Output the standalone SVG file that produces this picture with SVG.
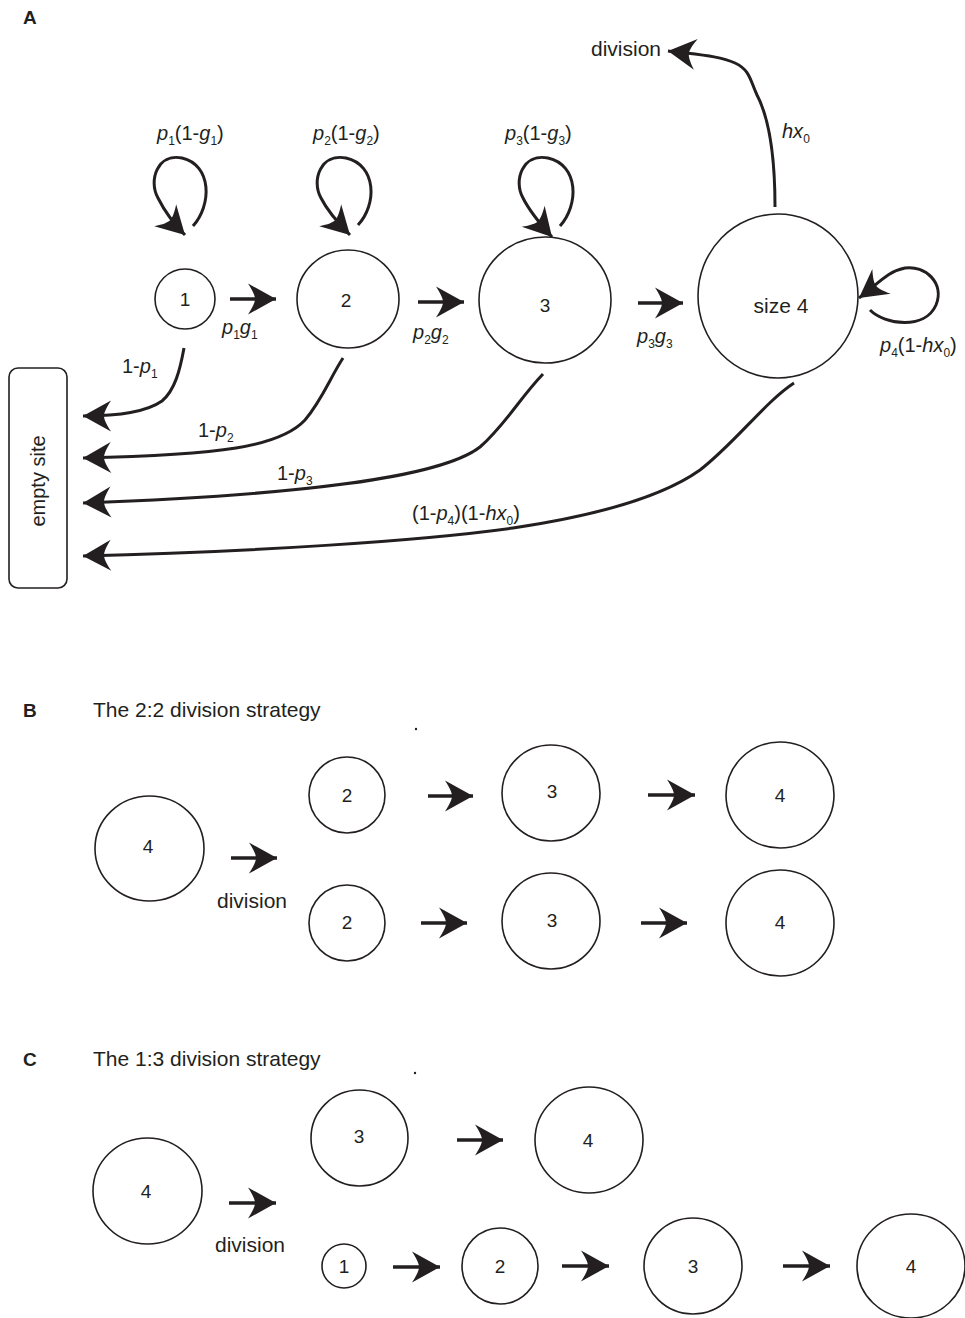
<svg xmlns="http://www.w3.org/2000/svg" width="965" height="1318" viewBox="0 0 965 1318">
  <style>
    text { font-family: "Liberation Sans", Arial, sans-serif; fill: #231f20; }
    .panel { font-size: 19px; font-weight: bold; }
    .title { font-size: 21px; }
    .num { font-size: 19px; text-anchor: middle; }
    .word { font-size: 21px; }
    .lbl { font-size: 20px; }
    .i { font-style: italic; }
    .sub { font-size: 12px; }
    .node { fill: #ffffff; stroke: #231f20; stroke-width: 1.6; }
    .edge { fill: none; stroke: #231f20; stroke-width: 3; marker-end: url(#ah); }
    .step { fill: none; stroke: #231f20; stroke-width: 3.5; marker-end: url(#ah); }
  </style>
  <defs>
    <marker id="ah" markerUnits="userSpaceOnUse" viewBox="-30 -17 32 34" markerWidth="32" markerHeight="34" refX="0" refY="0" orient="auto" overflow="visible">
      <path d="M0,0 L-28,-15.5 C-23,-8 -21,-3 -21,0 C-21,3 -23,8 -28,15.5 Z" fill="#231f20"/>
    </marker>
  </defs>
  <rect width="965" height="1318" fill="#ffffff"/>

  <!-- Panel A -->
  <text class="panel" x="23" y="24">A</text>

  <g id="a-size1">
    <ellipse class="node" cx="185" cy="299" rx="30" ry="30"/>
    <text class="num" x="185" y="306">1</text>
  </g>
  <g id="a-size2">
    <ellipse class="node" cx="348" cy="299" rx="51" ry="49"/>
    <text class="num" x="346" y="307">2</text>
  </g>
  <g id="a-size3">
    <ellipse class="node" cx="545" cy="300" rx="66" ry="63"/>
    <text class="num" x="545" y="312">3</text>
  </g>
  <g id="a-size4">
    <ellipse class="node" cx="778" cy="296" rx="80" ry="82"/>
    <text class="word" x="781" y="313" text-anchor="middle">size 4</text>
  </g>
  <g id="a-empty">
    <rect class="node" x="9" y="368" width="58" height="220" rx="9" ry="9"/>
    <text class="word" transform="translate(45,481) rotate(-90)" text-anchor="middle" style="font-size:20px">empty site</text>
  </g>
  <g id="a-division">
    <text class="word" x="591" y="56">division</text>
  </g>

  <g id="a-connectors">
    <!-- self loops -->
    <path class="edge" d="M193,226 C212,205 212,165 182,158 C158,153 148,180 158,198 C165,212 175,225 185,235"/>
    <path class="edge" d="M358,225 C377,205 377,165 346,158 C321,153 311,180 321,198 C328,212 340,225 350,235"/>
    <path class="edge" d="M560,226 C579,205 579,165 548,158 C523,153 513,180 523,198 C530,212 542,226 552,237"/>
    <path class="edge" d="M870,310 C885,325 925,330 936,305 C945,283 925,265 905,268 C888,271 878,284 859,298"/>
    <!-- growth steps -->
    <line class="step" x1="230" y1="299" x2="276" y2="299"/>
    <line class="step" x1="418" y1="302" x2="464" y2="302"/>
    <line class="step" x1="638" y1="303" x2="683" y2="303"/>
    <!-- division -->
    <path class="edge" d="M775,207 C775,160 770,120 757,95 C750,80 750,70 735,63 C720,56 700,55 668,51"/>
    <!-- deaths to empty site -->
    <path class="edge" d="M184,348 C180,370 175,390 162,401 C145,413 115,416 83,416"/>
    <path class="edge" d="M343,358 C330,378 322,400 305,420 C280,447 220,455 83,458"/>
    <path class="edge" d="M543,374 C520,398 505,425 480,447 C440,478 300,495 83,503"/>
    <path class="edge" d="M794,383 C765,402 735,443 700,470 C665,495 600,515 513,528 C420,541 250,552 83,556"/>
  </g>

  <g id="a-labels">
    <text class="lbl" x="157" y="140"><tspan class="i">p</tspan><tspan class="sub" dy="5">1</tspan><tspan dy="-5">(1-</tspan><tspan class="i">g</tspan><tspan class="sub" dy="5">1</tspan><tspan dy="-5">)</tspan></text>
    <text class="lbl" x="313" y="140"><tspan class="i">p</tspan><tspan class="sub" dy="5">2</tspan><tspan dy="-5">(1-</tspan><tspan class="i">g</tspan><tspan class="sub" dy="5">2</tspan><tspan dy="-5">)</tspan></text>
    <text class="lbl" x="505" y="140"><tspan class="i">p</tspan><tspan class="sub" dy="5">3</tspan><tspan dy="-5">(1-</tspan><tspan class="i">g</tspan><tspan class="sub" dy="5">3</tspan><tspan dy="-5">)</tspan></text>
    <text class="lbl" x="782" y="138"><tspan class="i">hx</tspan><tspan class="sub" dy="5">0</tspan></text>
    <text class="lbl" x="222" y="334"><tspan class="i">p</tspan><tspan class="sub" dy="5">1</tspan><tspan class="i" dy="-5">g</tspan><tspan class="sub" dy="5">1</tspan></text>
    <text class="lbl" x="413" y="339"><tspan class="i">p</tspan><tspan class="sub" dy="5">2</tspan><tspan class="i" dy="-5">g</tspan><tspan class="sub" dy="5">2</tspan></text>
    <text class="lbl" x="637" y="343"><tspan class="i">p</tspan><tspan class="sub" dy="5">3</tspan><tspan class="i" dy="-5">g</tspan><tspan class="sub" dy="5">3</tspan></text>
    <text class="lbl" x="880" y="352"><tspan class="i">p</tspan><tspan class="sub" dy="5">4</tspan><tspan dy="-5">(1-</tspan><tspan class="i">hx</tspan><tspan class="sub" dy="5">0</tspan><tspan dy="-5">)</tspan></text>
    <text class="lbl" x="122" y="373">1-<tspan class="i">p</tspan><tspan class="sub" dy="5">1</tspan></text>
    <text class="lbl" x="198" y="437">1-<tspan class="i">p</tspan><tspan class="sub" dy="5">2</tspan></text>
    <text class="lbl" x="277" y="480">1-<tspan class="i">p</tspan><tspan class="sub" dy="5">3</tspan></text>
    <text class="lbl" x="412" y="520">(1-<tspan class="i">p</tspan><tspan class="sub" dy="5">4</tspan><tspan dy="-5">)(1-</tspan><tspan class="i">hx</tspan><tspan class="sub" dy="5">0</tspan><tspan dy="-5">)</tspan></text>
  </g>

  <!-- Panel B -->
  <text class="panel" x="23" y="717">B</text>
  <text class="title" x="93" y="717">The 2:2 division strategy</text>
  <circle cx="416" cy="729" r="1.2" fill="#231f20"/>

  <g id="b-parent">
    <ellipse class="node" cx="149.5" cy="848.5" rx="54.5" ry="52.5"/>
    <text class="num" x="148" y="853">4</text>
  </g>
  <g id="b-top-2">
    <ellipse class="node" cx="347" cy="795" rx="38" ry="38"/>
    <text class="num" x="347" y="802">2</text>
  </g>
  <g id="b-top-3">
    <ellipse class="node" cx="551" cy="793" rx="49" ry="48"/>
    <text class="num" x="552" y="798">3</text>
  </g>
  <g id="b-top-4">
    <ellipse class="node" cx="780" cy="795" rx="54" ry="53"/>
    <text class="num" x="780" y="802">4</text>
  </g>
  <g id="b-bottom-2">
    <ellipse class="node" cx="347" cy="923" rx="38" ry="38"/>
    <text class="num" x="347" y="929">2</text>
  </g>
  <g id="b-bottom-3">
    <ellipse class="node" cx="551" cy="921" rx="49" ry="48"/>
    <text class="num" x="552" y="927">3</text>
  </g>
  <g id="b-bottom-4">
    <ellipse class="node" cx="780" cy="923" rx="54" ry="53"/>
    <text class="num" x="780" y="929">4</text>
  </g>
  <g id="b-connectors">
    <line class="step" x1="231" y1="858" x2="277" y2="858"/>
    <line class="step" x1="428" y1="796" x2="473" y2="796"/>
    <line class="step" x1="421" y1="923" x2="467" y2="923"/>
    <line class="step" x1="648" y1="795" x2="695" y2="795"/>
    <line class="step" x1="641" y1="923" x2="687" y2="923"/>
  </g>
  <text class="word" x="217" y="908">division</text>

  <!-- Panel C -->
  <text class="panel" x="23" y="1066">C</text>
  <text class="title" x="93" y="1066">The 1:3 division strategy</text>
  <circle cx="415" cy="1073" r="1.2" fill="#231f20"/>

  <g id="c-parent">
    <ellipse class="node" cx="147.5" cy="1191" rx="54.5" ry="53"/>
    <text class="num" x="146" y="1198">4</text>
  </g>
  <g id="c-top-3">
    <ellipse class="node" cx="359.5" cy="1138" rx="48.5" ry="48"/>
    <text class="num" x="359" y="1143">3</text>
  </g>
  <g id="c-top-4">
    <ellipse class="node" cx="589" cy="1140" rx="54" ry="53"/>
    <text class="num" x="588" y="1147">4</text>
  </g>
  <g id="c-bottom-1">
    <ellipse class="node" cx="344" cy="1266" rx="22" ry="22"/>
    <text class="num" x="344" y="1273">1</text>
  </g>
  <g id="c-bottom-2">
    <ellipse class="node" cx="500" cy="1266" rx="38" ry="38"/>
    <text class="num" x="500" y="1273">2</text>
  </g>
  <g id="c-bottom-3">
    <ellipse class="node" cx="693" cy="1266" rx="49" ry="48"/>
    <text class="num" x="693" y="1273">3</text>
  </g>
  <g id="c-bottom-4">
    <ellipse class="node" cx="911" cy="1266" rx="54" ry="52"/>
    <text class="num" x="911" y="1273">4</text>
  </g>
  <g id="c-connectors">
    <line class="step" x1="229" y1="1203" x2="276" y2="1203"/>
    <line class="step" x1="457" y1="1140" x2="503" y2="1140"/>
    <line class="step" x1="393" y1="1267" x2="440" y2="1267"/>
    <line class="step" x1="562" y1="1266" x2="609" y2="1266"/>
    <line class="step" x1="783" y1="1266" x2="830" y2="1266"/>
  </g>
  <text class="word" x="215" y="1252">division</text>
</svg>
